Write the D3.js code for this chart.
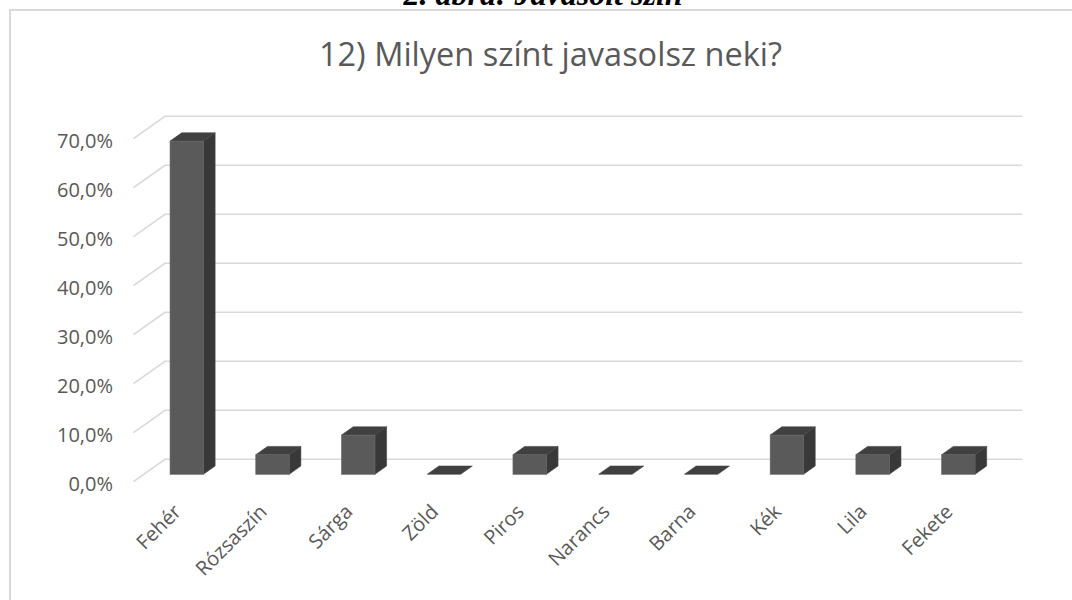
<!DOCTYPE html>
<html>
<head>
<meta charset="utf-8">
<script src="https://cdn.jsdelivr.net/npm/d3@7"></script>
<style>
  html, body { margin: 0; padding: 0; background: #fff; }
  svg { display: block; }
</style>
</head>
<body>
<div id="chart"></div>
<script>
// data (25 answers -> steps of 4%)
var categories = ["Fehér", "Rózsaszín", "Sárga", "Zöld", "Piros", "Narancs", "Barna", "Kék", "Lila", "Fekete"];
var values = [0.68, 0.04, 0.08, 0, 0.04, 0, 0, 0.08, 0.04, 0.04];
var yTicks = [0, 0.1, 0.2, 0.3, 0.4, 0.5, 0.6, 0.7];
var chartTitle = "12) Milyen színt javasolsz neki?";
var captionText = "2. ábra: Javasolt szín";

var width = 1072,
    height = 600,
    depthX = 31.5,     // 3d depth offset of the floor
    depthY = -22.4,
    barFront = 0.33,   // bar sits in the middle part of the depth
    barBack = 0.70,
    barRatio = 0.39,
    textColor = "#595959",
    gridColor = "#d9d9d9",
    font = "'Open Sans', 'Noto Sans', sans-serif";

var svg = d3.select("#chart")
    .append("svg")
    .attr("width", width)
    .attr("height", height);

// caption of the document, mostly cut off at the top
svg.append("text")
    .attr("x", 543)
    .attr("y", 5)
    .attr("text-anchor", "middle")
    .attr("font-family", "'Liberation Serif', 'DejaVu Serif', serif")
    .attr("font-weight", "bold")
    .attr("font-style", "italic")
    .attr("font-size", "32px")
    .attr("fill", "#000")
    .text(captionText);

// chart border
svg.append("rect")
    .attr("x", 10)
    .attr("y", 10)
    .attr("width", 1081)
    .attr("height", 640)
    .attr("fill", "#fff")
    .attr("stroke", gridColor)
    .attr("stroke-width", 2);

svg.append("text")
    .attr("x", 550.5)
    .attr("y", 66)
    .attr("text-anchor", "middle")
    .attr("font-family", font)
    .attr("font-size", "32.5px")
    .attr("fill", textColor)
    .text(chartTitle);

var x = d3.scaleBand()
    .domain(categories)
    .range([133.5, 990.8])
    .padding(0);

var y = d3.scaleLinear()
    .domain([0, 0.7])
    .range([481.7, 138.7]);

var fmt = d3.formatLocale({ decimal: ",", thousands: " ", grouping: [3], currency: ["", " Ft"] }).format(".1%");

var x0 = x.range()[0],
    x1 = x.range()[1];

// gridlines: short diagonal on the side wall + line along the back wall
var grid = svg.append("g").attr("class", "grid");
grid.selectAll("path")
    .data(yTicks)
    .enter()
    .append("path")
    .attr("d", function (d) {
        var yy = y(d);
        return "M" + x0 + "," + yy +
            "L" + (x0 + depthX) + "," + (yy + depthY) +
            "L" + (x1 + depthX) + "," + (yy + depthY);
    })
    .attr("fill", "none")
    .attr("stroke", gridColor)
    .attr("stroke-width", 1.6);

svg.append("g").selectAll("text")
    .data(yTicks)
    .enter()
    .append("text")
    .attr("x", 113)
    .attr("y", function (d) { return y(d) + 9.5; })
    .attr("text-anchor", "end")
    .attr("font-family", font)
    .attr("font-size", "20px")
    .attr("fill", textColor)
    .text(function (d) { return fmt(d); });

// bars as little boxes
var bw = x.bandwidth() * barRatio,
    fx = depthX * barFront,
    fy = depthY * barFront,
    sx = depthX * (barBack - barFront),
    sy = depthY * (barBack - barFront);

var bar = svg.append("g").selectAll("g")
    .data(categories.map(function (c, i) { return { name: c, value: values[i] }; }))
    .enter()
    .append("g")
    .attr("transform", function (d) {
        var cx = x(d.name) + x.bandwidth() / 2;
        return "translate(" + (cx - bw / 2 + fx) + "," + fy + ")";
    });

bar.append("path")   // top
    .attr("d", function (d) {
        var t = y(d.value);
        return "M0," + t + "L" + bw + "," + t + "L" + (bw + sx) + "," + (t + sy) +
            "L" + sx + "," + (t + sy) + "Z";
    })
    .attr("fill", "#404040")
    .attr("stroke", "#474747")
    .attr("stroke-width", 0.6);

bar.filter(function (d) { return d.value > 0; })
    .append("path")   // right side
    .attr("d", function (d) {
        var t = y(d.value), b = y(0);
        return "M" + bw + "," + t + "L" + (bw + sx) + "," + (t + sy) + "L" + (bw + sx) + "," + (b + sy) +
            "L" + bw + "," + b + "Z";
    })
    .attr("fill", "#383838")
    .attr("stroke", "#474747")
    .attr("stroke-width", 0.6);

bar.filter(function (d) { return d.value > 0; })
    .append("rect")   // front
    .attr("x", 0)
    .attr("y", function (d) { return y(d.value); })
    .attr("width", bw)
    .attr("height", function (d) { return y(0) - y(d.value); })
    .attr("fill", "#5a5a5a")
    .attr("stroke", "#666")
    .attr("stroke-width", 0.6);

// category labels, rotated
svg.append("g").selectAll("text")
    .data(categories)
    .enter()
    .append("text")
    .attr("transform", function (d) {
        var cx = x(d) + x.bandwidth() / 2 + 6;
        return "translate(" + cx + ",513) rotate(-45)";
    })
    .attr("text-anchor", "end")
    .attr("font-family", font)
    .attr("font-size", "20px")
    .attr("fill", textColor)
    .text(function (d) { return d; });
</script>
</body>
</html>
